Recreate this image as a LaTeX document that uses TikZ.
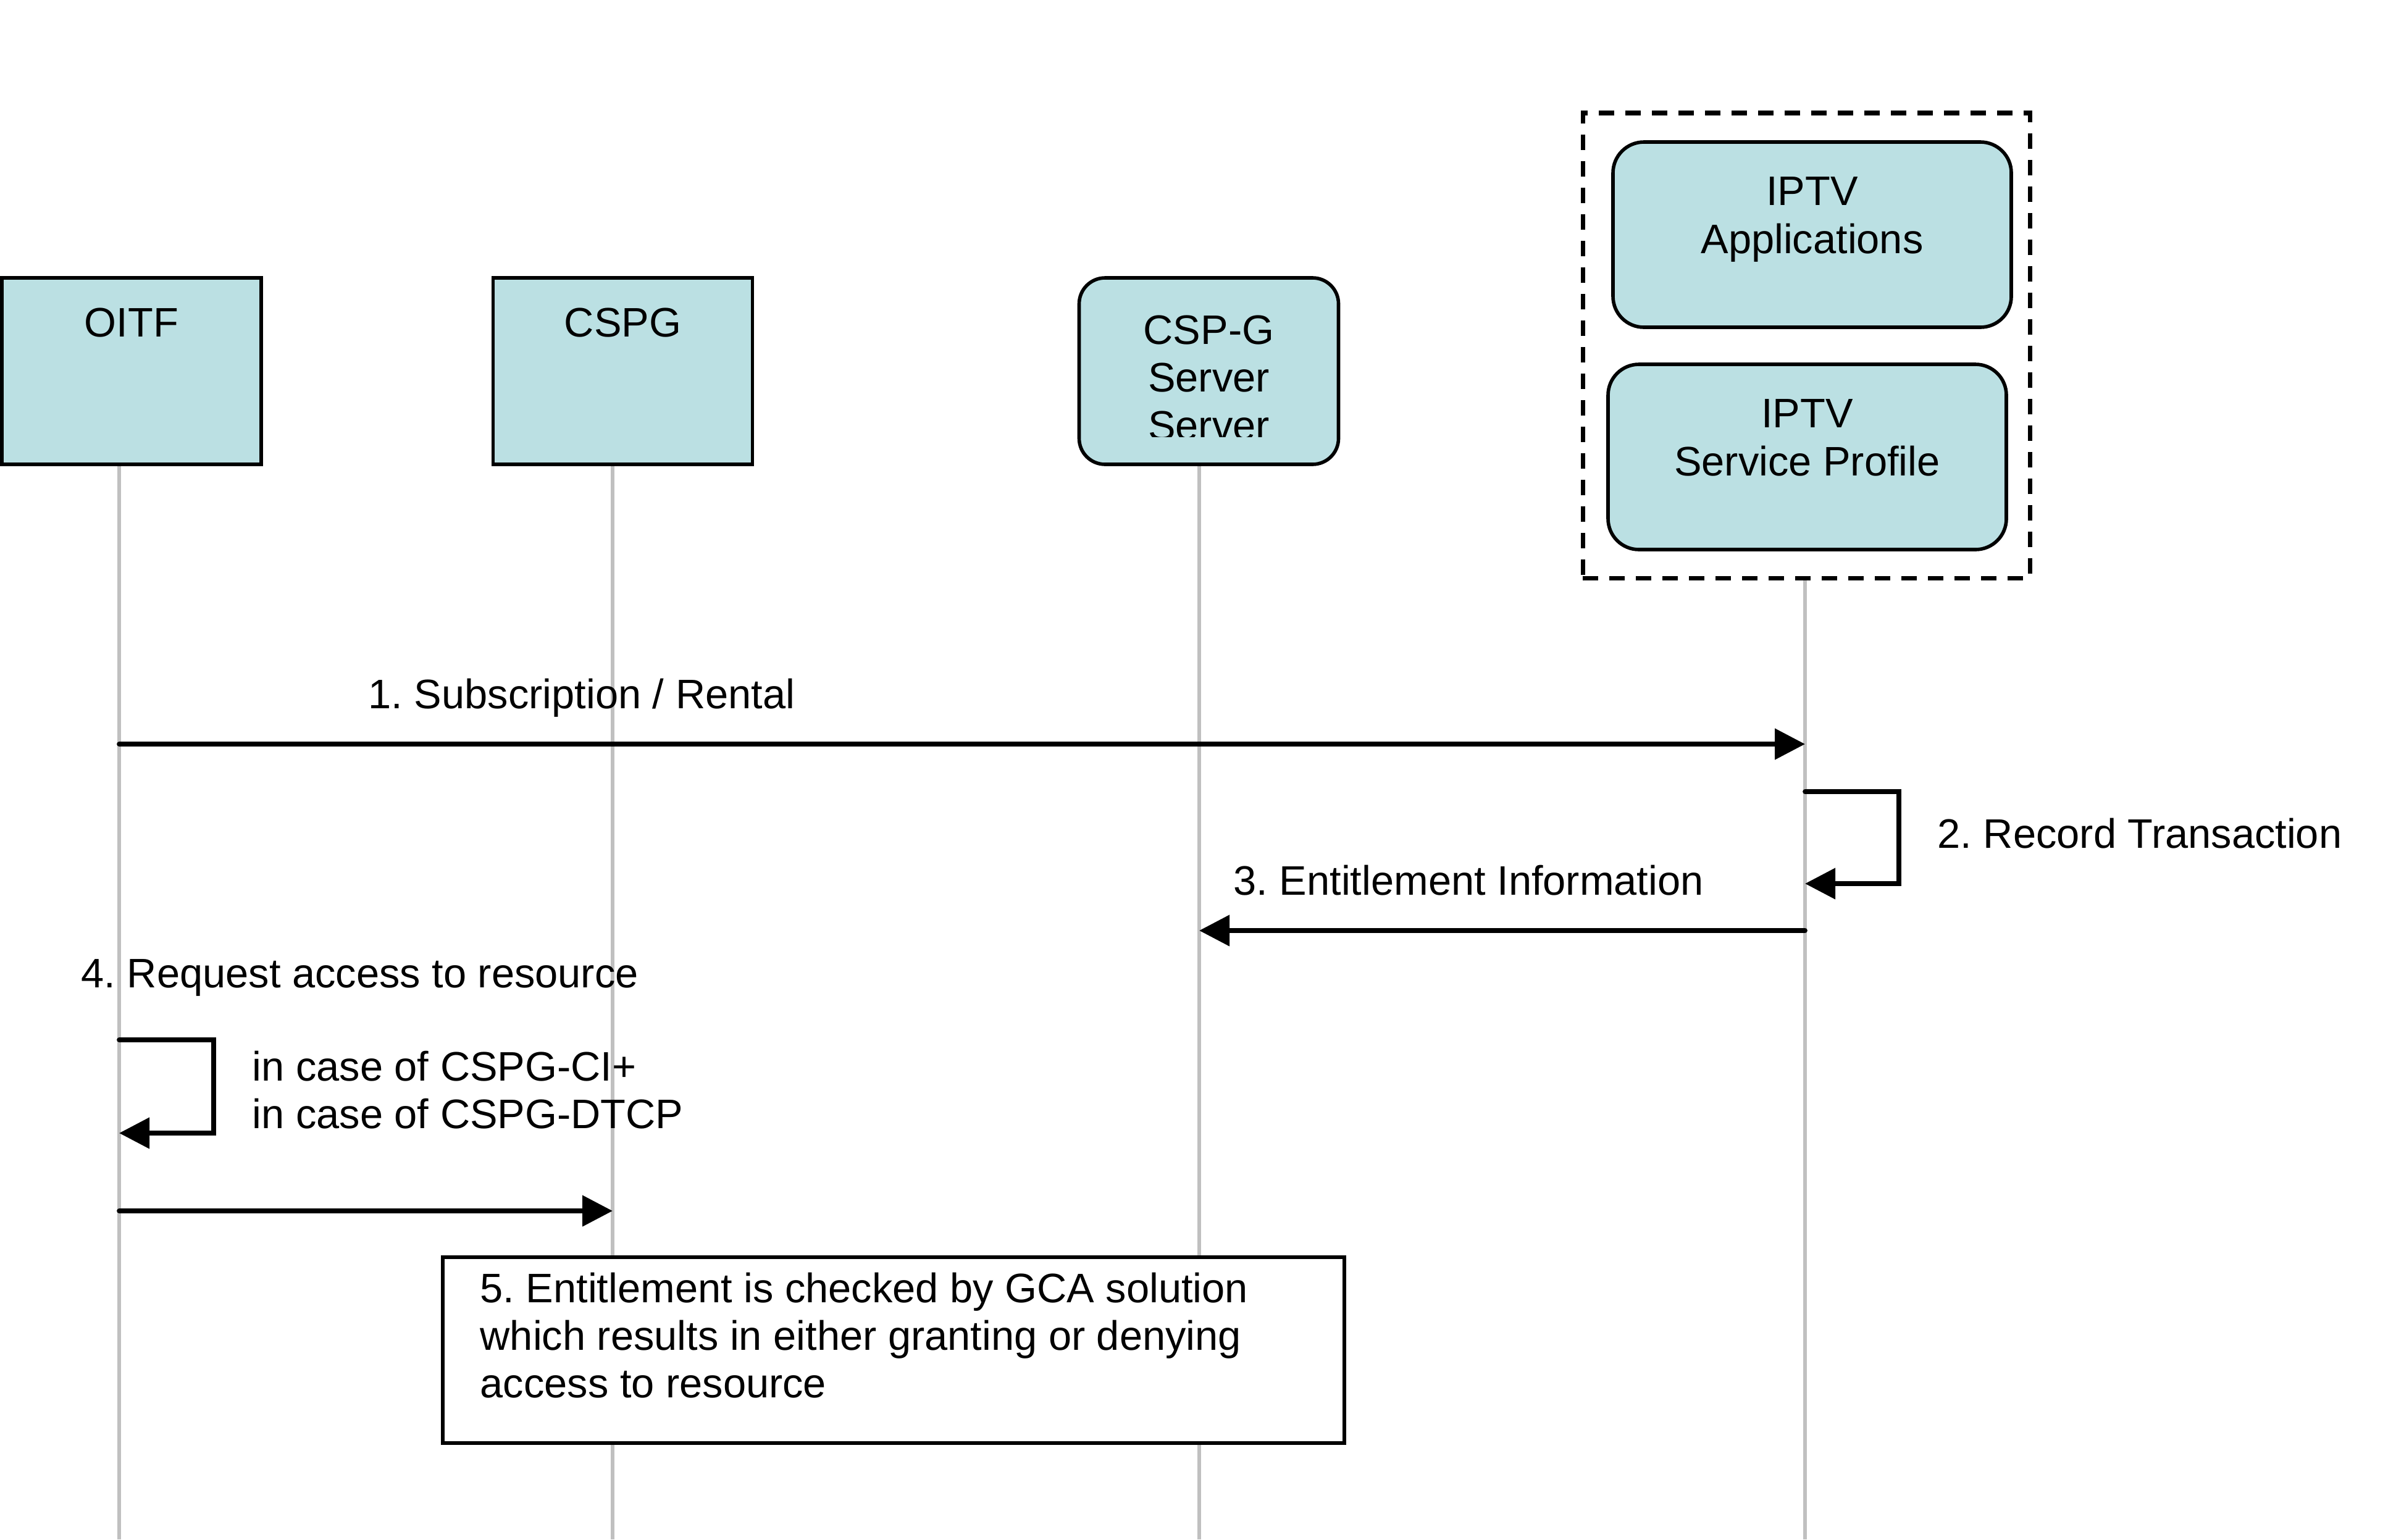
\documentclass[tikz,border=0pt]{standalone}
\usepackage{fontspec}
\setmainfont{Liberation Sans}
\frenchspacing
\usetikzlibrary{arrows.meta}
\definecolor{boxblue}{RGB}{187,224,227}
\definecolor{lifegray}{RGB}{192,192,192}
\tikzstyle{entity} = [rectangle, minimum width=4.2cm, minimum height=3.02cm, draw=black, line width=1.6pt, fill=boxblue]
\tikzstyle{roundentity} = [entity, rounded corners=0.42cm]
\tikzstyle{iptvbox} = [entity, rounded corners=0.5cm, minimum width=6.45cm, minimum height=3cm]
\tikzstyle{groupbox} = [rectangle, draw=black, line width=2pt, dash pattern=on 0.25cm off 0.18cm, minimum width=7.24cm, minimum height=7.53cm]
\tikzstyle{boxtitle} = [inner sep=0pt, align=center, anchor=north]
\tikzstyle{msgtext} = [inner sep=0pt, anchor=base west]
\tikzstyle{blocktext} = [inner sep=0pt, align=left, anchor=north west]
\tikzstyle{lifeline} = [draw=lifegray, line width=1.6pt]
\tikzstyle{arrow} = [line width=2.2pt, line cap=round, ->, >={Triangle[length=0.49cm, width=0.49cm]}]
\tikzstyle{notebox} = [rectangle, draw=black, line width=1.6pt, fill=white, minimum width=14.6cm, minimum height=3.01cm]

\begin{document}
\begin{tikzpicture}[font=\fontsize{19}{22}\selectfont]
		\useasboundingbox (0,0) rectangle (38.8,-24.93);
		\coordinate (oitfEnd) at (1.93,-24.93);
		\coordinate (cspgEnd) at (9.92,-24.93);
		\coordinate (serverEnd) at (19.42,-24.93);
		\coordinate (iptvEnd) at (29.23,-24.93);

		\node (oitf) [entity] at (2.13,-6.01) {};
		\node (cspg) [entity] at (10.085,-6.01) {};
		\node (server) [roundentity] at (19.575,-6.01) {};
		\node (iptvGroup) [groupbox] at (29.25,-5.595) {};
		\node (apps) [iptvbox] at (29.345,-3.80) {};
		\node (profile) [iptvbox] at (29.265,-7.40) {};

		\node (oitfText) [boxtitle] at ([yshift=-0.51cm]oitf.north) {OITF};
		\node (cspgText) [boxtitle] at ([yshift=-0.51cm]cspg.north) {CSPG};
		\coordinate (clipLine) at (0,-7.07);
		\begin{scope}
			\clip (server.north west) rectangle (server.east |- clipLine);
			\node (serverText) [boxtitle] at ([yshift=-0.63cm]server.north) {CSP-G\\Server\\Server};
		\end{scope}
		\node (appsText) [boxtitle] at ([yshift=-0.59cm]apps.north) {IPTV\\Applications};
		\node (profileText) [boxtitle] at ([yshift=-0.59cm]profile.north) {IPTV\\Service Profile};

		\draw [lifeline] (oitfEnd |- oitf.south) -- (oitfEnd);
		\draw [lifeline] (cspgEnd |- cspg.south) -- (cspgEnd);
		\draw [lifeline] (serverEnd |- server.south) -- (serverEnd);
		\draw [lifeline] (iptvEnd |- iptvGroup.south) -- (iptvEnd);

		\coordinate (t1) at (0,-12.05);
		\coordinate (t2a) at (0,-12.82);
		\coordinate (t2b) at (30.75,-14.31);
		\coordinate (t3) at (0,-15.07);
		\coordinate (t4a) at (0,-16.84);
		\coordinate (t4b) at (3.46,-18.35);
		\coordinate (t5) at (0,-19.61);

		\draw [arrow] (oitfEnd |- t1) -- (iptvEnd |- t1);
		\draw [arrow] (iptvEnd |- t2a) -| (t2b) -- (iptvEnd |- t2b);
		\draw [arrow] (iptvEnd |- t3) -- (serverEnd |- t3);
		\draw [arrow] (oitfEnd |- t4a) -| (t4b) -- (oitfEnd |- t4b);
		\draw [arrow] (oitfEnd |- t5) -- (cspgEnd |- t5);

		\node (subLabel) [msgtext] at (5.96,-11.47) {1. Subscription / Rental};
		\node (recLabel) [msgtext] at (31.37,-13.73) {2. Record Transaction};
		\node (entLabel) [msgtext] at (19.97,-14.49) {3. Entitlement Information};
		\node (reqLabel) [msgtext] at (1.31,-15.99) {4. Request access to resource};
		\node (caseLabel) [blocktext] at (4.08,-17.01) {in case of CSPG-CI+\\in case of CSPG-DTCP};

		\node (checkBox) [notebox] at (14.47,-21.865) {};
		\node (checkText) [blocktext] at (7.77,-20.60) {5. Entitlement is checked by GCA solution\\which results in either granting or denying\\access to resource};
	\end{tikzpicture}
\end{document}
